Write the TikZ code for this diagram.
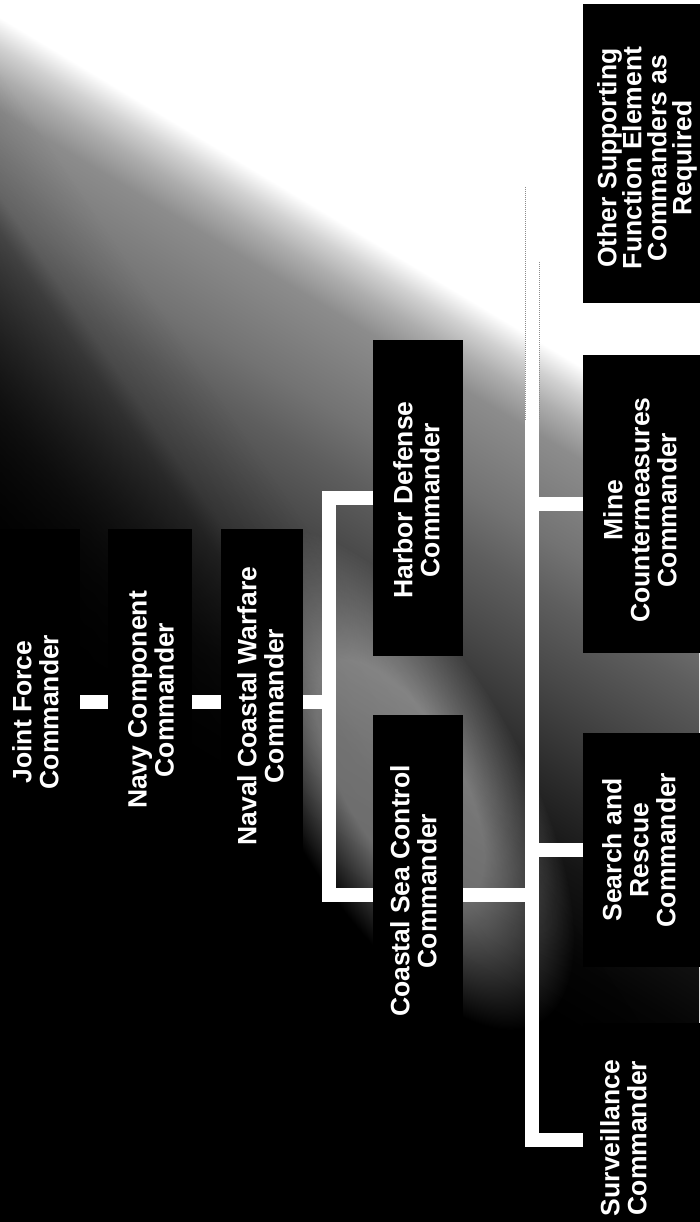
\documentclass[tikz,border=0pt]{standalone}
\usepackage{fontspec}
\setmainfont{Liberation Sans}
\definecolor{gA}{gray}{0.82}
\definecolor{gB}{gray}{0.68}
\definecolor{gC}{gray}{0.55}
\definecolor{gD}{gray}{0.45}
\definecolor{gE}{gray}{0.37}
\definecolor{gF}{gray}{0.28}
\definecolor{gG}{gray}{0.17}
\definecolor{gH}{gray}{0.08}
\definecolor{gI}{gray}{0.02}
\definecolor{blobc}{gray}{0.42}
\definecolor{mA}{gray}{0.85}
\definecolor{mB}{gray}{0.65}
\definecolor{mC}{gray}{0.3}
\definecolor{mD}{gray}{0.1}
\definecolor{mE}{gray}{0.03}
\pgfdeclarehorizontalshading{bgshade}{100bp}{color(0bp)=(white); color(38.83bp)=(white); color(39.67bp)=(gA); color(40.5bp)=(gB); color(41.5bp)=(gC); color(44.33bp)=(gD); color(46bp)=(gE); color(48.33bp)=(gF); color(51bp)=(gG); color(53.33bp)=(gH); color(56bp)=(gI); color(58.33bp)=(black); color(100bp)=(black)}
\pgfdeclarehorizontalshading{darkshade}{100bp}{color(0bp)=(white); color(39.67bp)=(white); color(42bp)=(mA); color(42.67bp)=(mB); color(45.8bp)=(mC); color(48.33bp)=(mD); color(51.67bp)=(mE); color(100bp)=(mE)}
\pgfdeclareradialshading{blobshade}{\pgfpoint{0bp}{0bp}}{color(0bp)=(blobc); color(12bp)=(blobc); color(25bp)=(black); color(50bp)=(black)}
\tikzset{
  box/.style={fill=black, draw=none, inner sep=0pt, outer sep=0pt},
  lbl/.style={text=white, font=\fontsize{26.5}{27}\selectfont\bfseries, align=center, rotate=90, inner sep=0pt, anchor=north},
  conn/.style={draw=white, line width=14pt, line cap=butt, line join=miter},
  faint/.style={draw=black!45, line width=0.8pt, dash pattern=on 0.8pt off 1.2pt}
}
\begin{document}
\begin{tikzpicture}[x=1pt, y=-1pt]
\useasboundingbox (0,0) rectangle (699,1222);
\fill[white] (0,0) rectangle (699,1222);
% background gradient
\begin{scope}
  \clip (0,0) rectangle (699,1222);
  \begin{scope}[transform canvas={rotate=-121}]
    \shade[shading=bgshade] (-400,-1500) rectangle (1100,1500);
  \end{scope}
  \begin{scope}[blend mode=multiply, transform canvas={rotate=-146}]
    \shade[shading=darkshade] (-400,-1500) rectangle (1100,1500);
  \end{scope}
  \begin{scope}[blend mode=screen, transform canvas={shift={(400,780)}, rotate=-60}]
    \shade[shading=blobshade] (0,0) ellipse [x radius=280, y radius=120];
  \end{scope}
\end{scope}
% boxes
\node[box, minimum width=90, minimum height=346] (jf) at (35,702) {};
\node[box, minimum width=84, minimum height=346] (navy) at (150,702) {};
\node[box, minimum width=82, minimum height=346] (naval) at (262,702) {};
\node[box, minimum width=90, minimum height=316] (hd) at (418,498) {};
\node[box, minimum width=90, minimum height=360] (csc) at (418,895) {};
\node[box, minimum width=137, minimum height=299] (oth) at (651.5,153.5) {};
\node[box, minimum width=137, minimum height=298] (mine) at (651.5,504) {};
\node[box, minimum width=137, minimum height=234] (sar) at (651.5,850) {};
\node[box, minimum width=137, minimum height=234] (surv) at (651.5,1140) {};
% labels
\node[lbl] (jf-t) at (12,712) {Joint Force\\Commander};
\node[lbl] (navy-t) at (128,700) {Navy Component\\Commander};
\node[lbl] (naval-t) at (237,706) {Naval Coastal Warfare\\Commander};
\node[lbl] (hd-t) at (393,500) {Harbor Defense\\Commander};
\node[lbl] (csc-t) at (390,891) {Coastal Sea Control\\Commander};
\node[lbl, font=\fontsize{26.5}{25}\selectfont\bfseries] (oth-t) at (597,158) {Other Supporting\\Function Element\\Commanders as\\Required};
\node[lbl] (mine-t) at (603,510) {Mine\\Countermeasures\\Commander};
\node[lbl] (sar-t) at (602,850) {Search and\\Rescue\\Commander};
\node[lbl] (surv-t) at (600,1138) {Surveillance\\Commander};
% connectors
\coordinate (b1) at (328.5,702);
\coordinate (b2) at (532,895);
\draw[conn] (jf.east) -- (navy.west);
\draw[conn] (navy.east) -- (naval.west);
\draw[conn] (naval.east) -- (b1);
\draw[conn] (hd.west) -| (b1) |- (csc.west);
\draw[conn] (csc.east) -- (b2);
\draw[conn] (oth.west) -| (b2) |- (surv.west);
\draw[conn] (mine.west) -- (mine.west -| b2);
\draw[conn] (sar.west) -- (sar.west -| b2);
% faint edges of the bar in the light area
\coordinate (e1a) at (525,187);
\coordinate (e1b) at (525,420);
\coordinate (e2a) at (539.5,262);
\coordinate (e2b) at (539.5,420);
\draw[faint] (e1a) -- (e1b);
\draw[faint] (e2a) -- (e2b);
\end{tikzpicture}
\end{document}
